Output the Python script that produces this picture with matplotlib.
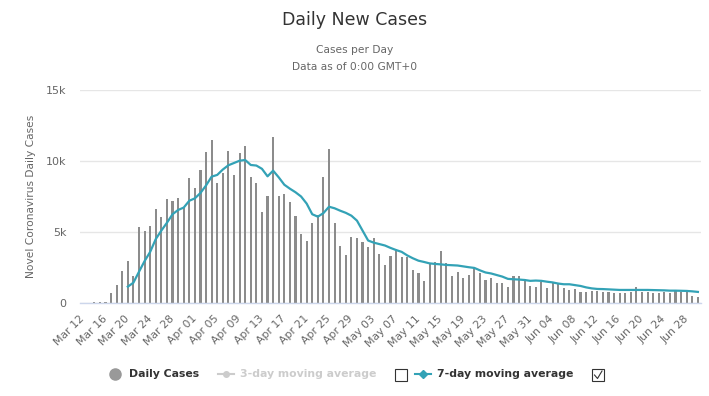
import matplotlib
matplotlib.use("Agg")
import matplotlib.pyplot as plt
from matplotlib.patches import Rectangle
import numpy as np
import pandas as pd

# dates on the axis (Mar 12 .. Jun 30)
dates = pd.date_range("2020-03-12", "2020-06-30", freq="D")

# daily new cases, Mar 12 .. Jun 30
daily_cases = [
    0, 0, 50, 100, 100, 700, 1270, 2250, 2960, 1900,
    5380, 5090, 5420, 6600, 6030, 7320, 7200, 7360, 6670, 8800,
    8070, 9340, 10600, 11460, 8470, 9170, 10680, 9000, 10540, 11060,
    8900, 8420, 6390, 7570, 11700, 7570, 7710, 7080, 6160, 4830,
    4390, 5640, 6180, 8840, 10830, 5640, 3990, 3400, 4670, 4600,
    4290, 3960, 4560, 3470, 2700, 3310, 3780, 3240, 3240, 2350,
    2110, 1570, 2750, 2890, 3660, 2790, 1900, 2180, 1760, 1970,
    2490, 2100, 1620, 1760, 1380, 1430, 1150, 1900, 1900, 1670,
    1220, 1150, 1460, 1080, 1410, 1380, 1050, 940, 1000, 750,
    770, 820, 820, 770, 770, 730, 680, 730, 770, 1130,
    770, 770, 680, 730, 770, 730, 820, 770, 770, 490,
    450,
]

# 7-day moving average as shown, Mar 20 .. Jun 30
ma7_start = "2020-03-20"
ma7 = [
    1150, 1430, 2200, 2950, 3600, 4500, 5100, 5650, 6250, 6550,
    6720, 7200, 7370, 7750, 8280, 8900, 9020, 9400, 9700, 9860,
    10020, 10070, 9720, 9680, 9450, 8920, 9320, 8850, 8330, 8050,
    7800, 7500, 7000, 6250, 6080, 6330, 6780, 6670, 6500, 6350,
    6150, 5800, 5100, 4400, 4250, 4150, 4050, 3880, 3730, 3600,
    3350, 3150, 2980, 2890, 2790, 2750, 2720, 2680, 2660, 2640,
    2580, 2520, 2470, 2300, 2150, 2080, 1970, 1860, 1700, 1670,
    1650, 1620, 1560, 1580, 1560, 1500, 1450, 1370, 1320, 1320,
    1260, 1200, 1100, 1030, 990, 980, 960, 940, 920, 920,
    920, 920, 920, 920, 910, 900, 890, 870, 870, 860,
    850, 820, 780,
]

yticks = [0, 5000, 10000, 15000]
ytick_labels = ["0", "5k", "10k", "15k"]

bar_color = "#8c8c8c"
line_color = "#33a2b6"
text_gray = "#666666"

fig = plt.figure(figsize=(7.09, 3.96), dpi=100)
ax = fig.add_axes([80.3 / 709, 1 - 303 / 396, 620.4 / 709, 213 / 396])

x = np.arange(len(dates))
ax.bar(x, daily_cases, width=0.38, color=bar_color, zorder=2)

x_ma = np.arange(len(ma7)) + (pd.Timestamp(ma7_start) - dates[0]).days
ax.plot(x_ma, ma7, color=line_color, lw=1.6, zorder=3)

ax.set_xlim(-0.5, len(dates) - 0.5)
ax.set_ylim(0, 15000)
ax.set_yticks(yticks)
ax.set_yticklabels(ytick_labels, color=text_gray, fontsize=8)
ax.grid(axis="y", color="#e6e6e6", lw=1, zorder=0)

tick_idx = x[::4]
ax.set_xticks(tick_idx)
ax.set_xticklabels([dates[i].strftime("%b %d") for i in tick_idx],
                   rotation=45, ha="right", va="center",
                   rotation_mode="anchor", color=text_gray, fontsize=7.8)
ax.tick_params(axis="x", length=0, pad=10)
ax.tick_params(axis="y", length=0, pad=10)

for s in ["top", "right", "left"]:
    ax.spines[s].set_visible(False)
ax.spines["bottom"].set_color("#ccd6eb")
ax.spines["bottom"].set_linewidth(1)

ax.set_ylabel("Novel Coronavirus Daily Cases", color=text_gray, fontsize=7.7, labelpad=7)

fig.text(0.5, 1 - 20 / 396, "Daily New Cases", ha="center", va="center",
         fontsize=12.5, color="#333333")
fig.text(0.5, 1 - 50 / 396, "Cases per Day", ha="center", va="center",
         fontsize=7.7, color=text_gray)
fig.text(0.5, 1 - 67 / 396, "Data as of 0:00 GMT+0", ha="center", va="center",
         fontsize=7.7, color=text_gray)

# legend drawn in pixel coordinates
lg = fig.add_axes([0, 0, 1, 1], facecolor="none")
lg.set_xlim(0, 709)
lg.set_ylim(396, 0)
lg.axis("off")
ly = 374
lg.plot([115], [ly], "o", color="#999999", ms=8)
lg.text(129, ly, "Daily Cases", fontsize=7.8, fontweight="bold", color="#333333", va="center")
lg.plot([218, 234], [ly, ly], color="#cccccc", lw=1.5)
lg.plot([226], [ly], "o", color="#cccccc", ms=4)
lg.text(240, ly, "3-day moving average", fontsize=7.8, fontweight="bold", color="#cccccc", va="center")
lg.add_patch(Rectangle((395, 369), 12, 12, fill=False, edgecolor="#333333", lw=0.8))
lg.plot([415, 431], [ly, ly], color=line_color, lw=1.5)
lg.plot([423], [ly], "D", color=line_color, ms=4)
lg.text(437, ly, "7-day moving average", fontsize=7.8, fontweight="bold", color="#333333", va="center")
lg.add_patch(Rectangle((592, 369), 12, 12, fill=False, edgecolor="#333333", lw=0.8))
lg.plot([594.5, 597.5, 602], [375, 378.5, 371], color="#333333", lw=0.8)

fig.savefig("out.png", dpi=100)
